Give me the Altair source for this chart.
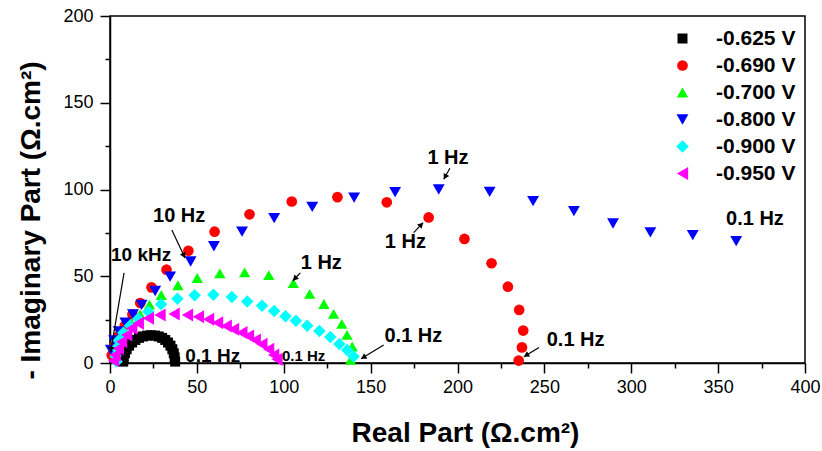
import altair as alt
import pandas as pd
import numpy as np

# ---------------- data ----------------
series_names = ["-0.625 V", "-0.690 V", "-0.700 V", "-0.800 V", "-0.900 V", "-0.950 V"]
series_colors = ["#000000", "#FF0000", "#00FF00", "#0000FF", "#00FFFF", "#FF00FF"]
series_shapes = ["square", "circle", "triangle-up", "triangle-down", "diamond", "triangle-left"]
series_sizes = [100, 170, 240, 240, 220, 240]

x_625 = [7.6, 7.9, 8.6, 9.6, 11.0, 12.7, 14.6, 16.7, 19.0, 21.3, 23.6, 25.9, 28.0, 30.0, 31.8, 33.4, 34.8, 35.9, 36.7, 37.2, 37.5]
y_625 = [0.8, 3.2, 5.6, 7.9, 10.0, 11.8, 13.3, 14.5, 15.3, 15.8, 16.0, 15.8, 15.3, 14.5, 13.3, 11.8, 10.0, 7.9, 5.6, 3.2, 0.8]

x_690 = [1.0, 2.5, 5.0, 8.5, 12.9, 17.4, 23.9, 32.5, 45.1, 60.2, 80.3, 104.6, 130.9, 159.3, 183.4, 204.0, 219.6, 229.0, 235.5, 237.8, 237.1, 235.2]
y_690 = [4.5, 9.5, 15.5, 21.5, 28.0, 34.6, 43.6, 53.8, 64.7, 75.7, 85.7, 93.1, 95.6, 92.6, 83.9, 71.5, 57.5, 44.0, 30.6, 18.7, 9.0, 1.4]

x_700 = [2.9, 4.8, 7.7, 12.5, 17.3, 22.7, 29.5, 39.1, 50.2, 63.2, 77.5, 91.4, 105.5, 114.9, 123.1, 128.7, 133.4, 136.4, 139.4, 138.5]
y_700 = [5.7, 11.5, 17.2, 23.0, 28.1, 33.6, 39.2, 44.8, 49.0, 51.7, 52.2, 50.7, 46.0, 39.8, 34.0, 28.3, 22.5, 16.2, 9.5, 1.8]

x_800 = [0.5, 2.4, 5.0, 8.8, 13.2, 18.2, 26.0, 34.6, 46.4, 59.8, 76.0, 94.5, 116.4, 140.5, 164.1, 189.2, 218.5, 243.5, 267.0, 289.5, 311.0, 335.4, 360.4]
y_800 = [7.5, 13.0, 18.2, 23.3, 28.0, 33.5, 41.5, 49.8, 58.5, 67.3, 75.7, 83.5, 90.0, 95.3, 98.5, 100.0, 98.6, 93.3, 87.5, 80.4, 75.3, 73.7, 70.2]

x_900 = [3.8, 3.2, 3.6, 5.0, 7.7, 11.5, 16.3, 22.1, 29.4, 38.8, 48.7, 59.5, 70.1, 79.0, 87.5, 94.5, 101.0, 107.0, 113.5, 120.5, 126.8, 132.0, 136.5, 140.2]
y_900 = [0.8, 4.2, 8.5, 13.0, 17.5, 21.5, 25.5, 29.6, 33.8, 37.0, 39.1, 39.3, 38.0, 35.5, 33.0, 30.0, 27.0, 24.3, 21.5, 18.5, 15.0, 11.0, 7.5, 3.8]

x_950 = [2.0, 2.9, 4.8, 6.7, 9.6, 12.5, 16.3, 22.1, 28.8, 36.9, 44.6, 50.9, 56.7, 61.9, 66.9, 71.1, 75.9, 79.7, 83.6, 87.4, 91.3, 94.2, 96.1]
y_950 = [1.3, 4.6, 8.4, 12.3, 16.1, 20.0, 22.9, 25.8, 27.7, 28.2, 27.7, 26.7, 25.2, 23.2, 21.3, 19.4, 17.5, 15.6, 13.3, 10.8, 7.9, 4.6, 2.1]

# annotations (frequency labels)
ann_text = ["10 kHz", "10 Hz", "1 Hz", "1 Hz", "1 Hz", "0.1 Hz", "0.1 Hz", "0.1 Hz", "0.1 Hz", "0.1 Hz"]
ann_x = [17.9, 39.8, 121.6, 194.5, 170.0, 371.2, 268.0, 174.6, 59.1, 111.4]
ann_y = [62.2, 84.7, 57.6, 118.4, 69.5, 83.0, 13.3, 15.6, 4.0, 4.3]
ann_fs = [19, 20, 20, 20, 20, 20, 20, 20, 19, 15]

# arrows (start -> tip)
arr_x1 = [8.1, 35.6, 109.5, 195.6, 174.8, 246.9, 157.5]
arr_y1 = [51.9, 76.7, 52.0, 112.2, 75.1, 9.0, 10.4]
arr_x2 = [0.3, 43.2, 105.3, 192.1, 180.2, 238.2, 144.5]
arr_y2 = [6.3, 60.5, 47.4, 105.9, 80.9, 3.6, 2.4]

# ---------------- tables ----------------
xs = [x_625, x_690, x_700, x_800, x_900, x_950]
ys = [y_625, y_690, y_700, y_800, y_900, y_950]
rows = []
for name, xx, yy in zip(series_names, xs, ys):
    for a, b in zip(xx, yy):
        rows.append({"x": a, "y": b, "series": name})
pts = pd.DataFrame(rows)

ann = pd.DataFrame({"x": ann_x, "y": ann_y, "label": ann_text, "fs": ann_fs})

arr = pd.DataFrame({"x1": arr_x1, "y1": arr_y1, "x2": arr_x2, "y2": arr_y2})
dx = arr["x2"] - arr["x1"]
dy = arr["y2"] - arr["y1"]
L = np.sqrt(dx ** 2 + dy ** 2)
back = 1.6  # pull arrowhead centre back from tip (data units)
arr["hx"] = arr["x2"] - dx / L * back
arr["hy"] = arr["y2"] - dy / L * back
arr["ang"] = (np.degrees(np.arctan2(dx, dy)) + 360) % 360

# ---------------- scales / axes ----------------
xscale = alt.Scale(domain=[0, 400], nice=False, zero=False)
yscale = alt.Scale(domain=[0, 200], nice=False, zero=False)

x_axis = alt.Axis(
    values=list(range(0, 401, 25)),
    labelExpr="datum.value % 50 === 0 ? datum.label : ''",
    tickSize={"condition": {"test": "datum.value % 50 === 0", "value": 10}, "value": 5},
    title="Real Part (Ω.cm²)",
    titleX=355, titleY=78, titleBaseline="alphabetic", titleAlign="center",
    labelFlush=False, labelOverlap=False, labelPadding=5, grid=False,
)
y_axis = alt.Axis(
    values=list(range(0, 201, 25)),
    labelExpr="datum.value % 50 === 0 ? datum.label : ''",
    tickSize={"condition": {"test": "datum.value % 50 === 0", "value": 10}, "value": 5},
    title="- Imaginary Part (Ω.cm²)",
    titleX=-79, titleY=204, titleAngle=270, titleAlign="center", titleBaseline="middle",
    labelFlush=False, labelOverlap=False, labelPadding=7, grid=False,
)

leg = alt.Legend(
    title=None, orient="none", legendX=562, legendY=12,
    labelFont="Liberation Sans", labelFontSize=21, labelFontWeight="bold",
    labelColor="black", labelOffset=23, rowPadding=5, padding=0,
    symbolStrokeWidth=0, symbolOpacity=1,
)

points = alt.Chart(pts).mark_point(filled=True, opacity=1, strokeWidth=0).encode(
    x=alt.X("x:Q", scale=xscale, axis=x_axis),
    y=alt.Y("y:Q", scale=yscale, axis=y_axis),
    color=alt.Color("series:N", scale=alt.Scale(domain=series_names, range=series_colors), legend=leg),
    shape=alt.Shape("series:N", scale=alt.Scale(domain=series_names, range=series_shapes), legend=leg),
    size=alt.Size("series:N", scale=alt.Scale(domain=series_names, range=series_sizes), legend=leg),
)

rules = alt.Chart(arr).mark_rule(color="black", strokeWidth=1.2).encode(
    x="x1:Q", y="y1:Q", x2="x2:Q", y2="y2:Q"
)
heads = alt.Chart(arr).mark_point(shape="triangle-up", filled=True, color="black", size=40, opacity=1, strokeWidth=0).encode(
    x="hx:Q", y="hy:Q", angle=alt.Angle("ang:Q", scale=None)
)

text_layers = []
for fs in sorted(set(ann_fs)):
    sub = ann[ann["fs"] == fs]
    text_layers.append(
        alt.Chart(sub).mark_text(
            font="Liberation Sans", fontWeight="bold", fontSize=fs, color="black",
            align="center", baseline="middle"
        ).encode(x="x:Q", y="y:Q", text="label:N")
    )

chart = alt.layer(points, rules, heads, *text_layers).properties(
    width=695, height=347,
    autosize=alt.AutoSizeParams(type="none"),
    padding={"left": 110, "top": 16, "right": 17, "bottom": 88},
    background="white",
).configure_view(
    stroke="black", strokeWidth=1.5
).configure_axis(
    domainColor="black", domainWidth=1.5, tickColor="black", tickWidth=1.5,
    labelFont="Liberation Sans", labelFontSize=18, labelColor="black",
    titleFont="Liberation Sans", titleFontSize=28, titleFontWeight="bold", titleColor="black",
)

chart.save("out.html", embed_options={"renderer": "svg", "actions": False})
